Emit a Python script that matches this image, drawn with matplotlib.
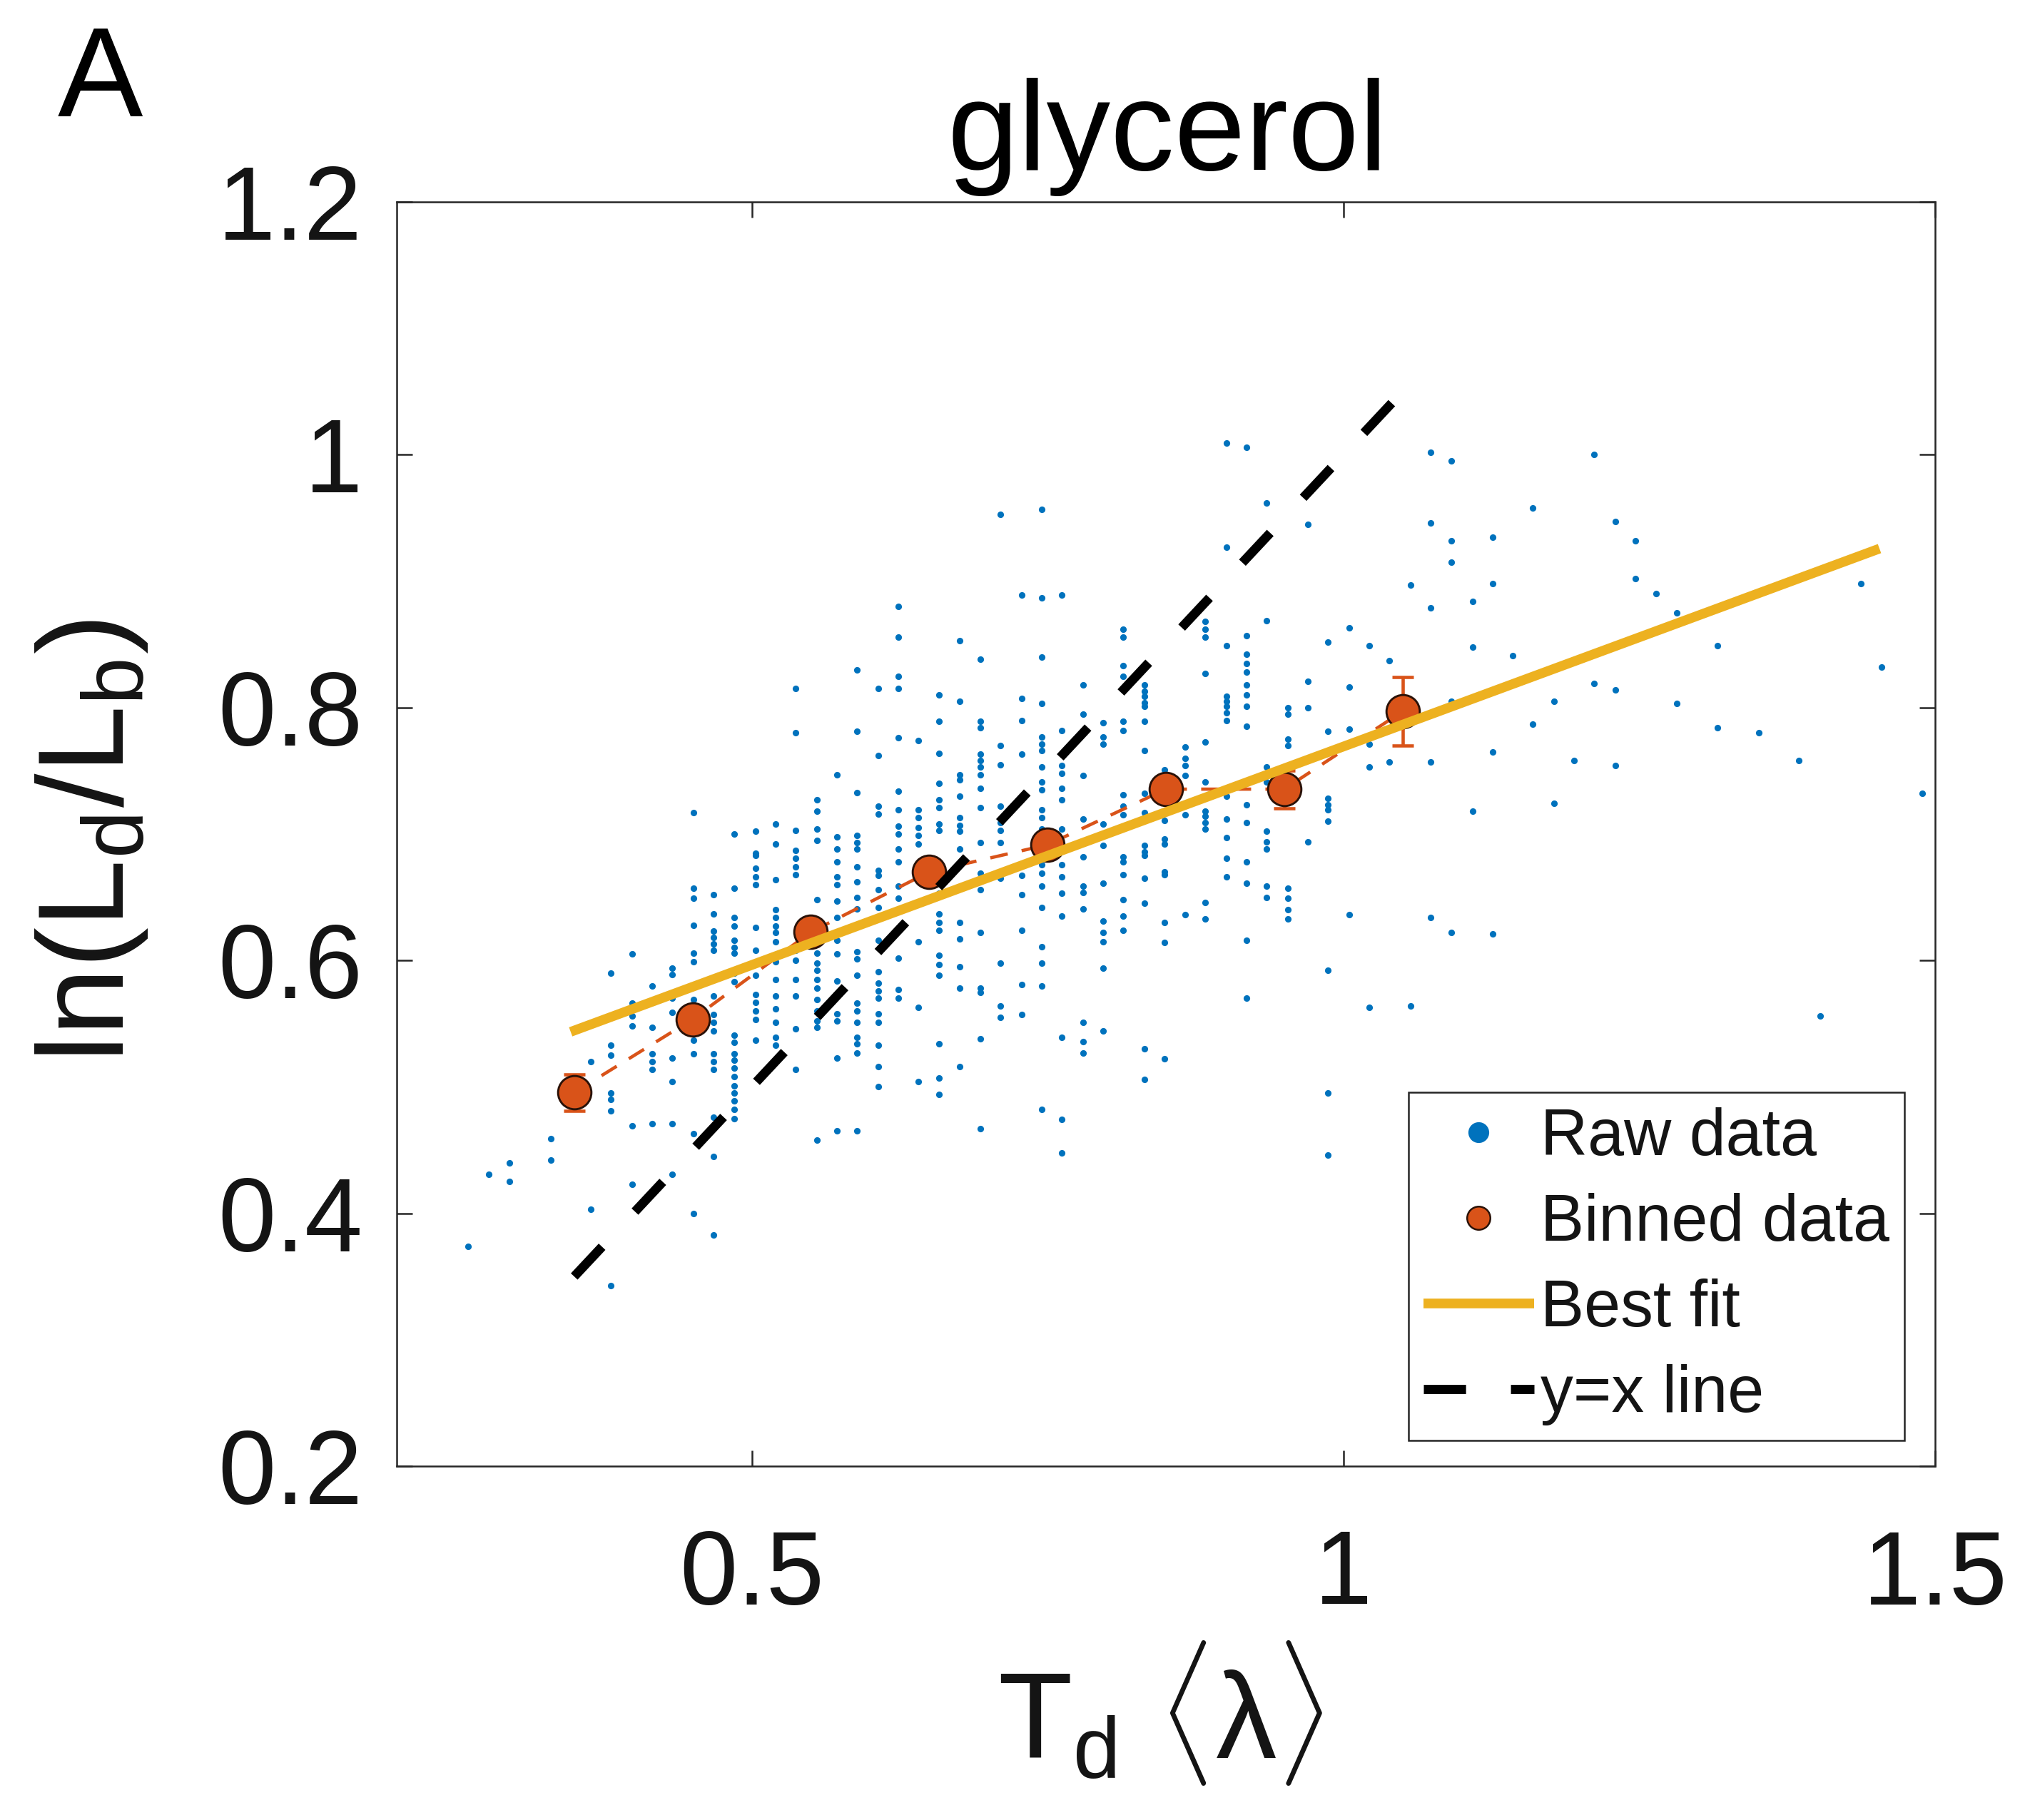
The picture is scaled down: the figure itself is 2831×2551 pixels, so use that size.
import matplotlib
matplotlib.use("Agg")
import matplotlib.pyplot as plt
from matplotlib.lines import Line2D

plt.rcParams['font.family'] = ['Liberation Sans', 'DejaVu Sans']
plt.rcParams['mathtext.fontset'] = 'custom'
plt.rcParams['mathtext.rm'] = 'Liberation Sans'
plt.rcParams['mathtext.it'] = 'Liberation Sans:italic'
plt.rcParams['mathtext.bf'] = 'Liberation Sans:bold'
plt.rcParams['lines.scale_dashes'] = False

# ---------------- data ----------------
# raw measurements, grouped by the discrete T_d<lambda> columns
raw_x = [0.260, 0.278, 0.295, 0.330, 0.364, 0.381, 0.399, 0.416, 0.433, 0.451,
         0.468, 0.485, 0.503, 0.520, 0.537, 0.555, 0.572, 0.589, 0.607, 0.624,
         0.641, 0.658, 0.676, 0.693, 0.710, 0.728, 0.745, 0.762, 0.780, 0.797,
         0.814, 0.832, 0.849, 0.866, 0.883, 0.901, 0.918, 0.935, 0.953, 0.970,
         0.987, 1.005, 1.022, 1.039, 1.057, 1.074, 1.091, 1.109, 1.126, 1.143,
         1.160, 1.178, 1.195, 1.212, 1.230, 1.247, 1.264, 1.282, 1.316, 1.351,
         1.385, 1.403, 1.437, 1.455, 1.489]
raw_y = [
    [0.374],
    [0.431],
    [0.440, 0.425],
    [0.459, 0.442],
    [0.520, 0.403],
    [0.590, 0.533, 0.525, 0.495, 0.490, 0.481, 0.343],
    [0.605, 0.566, 0.556, 0.548, 0.469, 0.423],
    [0.580, 0.547, 0.526, 0.520, 0.514, 0.471],
    [0.594, 0.589, 0.570, 0.559, 0.523, 0.504, 0.471, 0.431],
    [0.717, 0.657, 0.649, 0.628, 0.606, 0.599, 0.569, 0.537, 0.526, 0.463, 0.400],
    [0.652, 0.637, 0.623, 0.618, 0.613, 0.608, 0.572, 0.557, 0.551, 0.544, 0.526,
     0.520, 0.514, 0.476, 0.445, 0.383],
    [0.700, 0.657, 0.634, 0.627, 0.616, 0.610, 0.606, 0.590, 0.583, 0.541, 0.535,
     0.526, 0.521, 0.515, 0.508, 0.501, 0.495, 0.489, 0.482, 0.475],
    [0.702, 0.685, 0.683, 0.673, 0.666, 0.660, 0.626, 0.608, 0.588, 0.573, 0.567,
     0.560, 0.553, 0.537],
    [0.708, 0.692, 0.664, 0.640, 0.634, 0.627, 0.622, 0.615, 0.599, 0.585, 0.572,
     0.562, 0.551, 0.539, 0.533],
    [0.815, 0.780, 0.703, 0.687, 0.681, 0.674, 0.668, 0.608, 0.600, 0.585, 0.572,
     0.546, 0.514],
    [0.727, 0.718, 0.704, 0.695, 0.648, 0.606, 0.598, 0.592, 0.585, 0.578, 0.569,
     0.560, 0.552, 0.547, 0.458],
    [0.747, 0.698, 0.688, 0.678, 0.666, 0.660, 0.647, 0.634, 0.616, 0.605, 0.584,
     0.558, 0.552, 0.523, 0.465],
    [0.830, 0.781, 0.733, 0.699, 0.693, 0.688, 0.674, 0.662, 0.650, 0.641, 0.607,
     0.601, 0.588, 0.566, 0.560, 0.551, 0.539, 0.534, 0.527, 0.465],
    [0.815, 0.762, 0.722, 0.716, 0.671, 0.667, 0.656, 0.642, 0.616, 0.591, 0.582,
     0.576, 0.570, 0.558, 0.551, 0.533, 0.516, 0.500],
    [0.880, 0.856, 0.825, 0.815, 0.776, 0.734, 0.719, 0.706, 0.700, 0.688, 0.678,
     0.659, 0.649, 0.602, 0.577, 0.570],
    [0.774, 0.719, 0.713, 0.705, 0.699, 0.692, 0.615, 0.563, 0.504],
    [0.810, 0.789, 0.764, 0.740, 0.727, 0.721, 0.708, 0.703, 0.653, 0.637, 0.630,
     0.624, 0.604, 0.597, 0.588, 0.534, 0.507, 0.494],
    [0.853, 0.805, 0.747, 0.743, 0.730, 0.713, 0.707, 0.702, 0.688, 0.630, 0.617,
     0.595, 0.578, 0.516],
    [0.838, 0.789, 0.784, 0.763, 0.758, 0.753, 0.747, 0.736, 0.721, 0.693, 0.669,
     0.656, 0.622, 0.578, 0.575, 0.538, 0.467],
    [0.953, 0.770, 0.755, 0.722, 0.709, 0.703, 0.693, 0.665, 0.598, 0.564, 0.555],
    [0.889, 0.807, 0.790, 0.763, 0.667, 0.652, 0.624, 0.581, 0.557],
    [0.957, 0.887, 0.840, 0.803, 0.777, 0.771, 0.766, 0.753, 0.741, 0.735, 0.719,
     0.713, 0.704, 0.676, 0.669, 0.659, 0.642, 0.611, 0.598, 0.580, 0.482],
    [0.889, 0.782, 0.754, 0.748, 0.736, 0.727, 0.704, 0.676, 0.666, 0.653, 0.635,
     0.539, 0.474, 0.448],
    [0.818, 0.795, 0.746, 0.712, 0.682, 0.659, 0.654, 0.641, 0.551, 0.536, 0.527],
    [0.788, 0.777, 0.771, 0.708, 0.691, 0.661, 0.631, 0.622, 0.615, 0.594, 0.544],
    [0.862, 0.856, 0.833, 0.825, 0.789, 0.782, 0.731, 0.722, 0.715, 0.682, 0.678,
     0.668, 0.648, 0.635, 0.624],
    [0.818, 0.813, 0.809, 0.804, 0.801, 0.789, 0.766, 0.732, 0.717, 0.691, 0.686,
     0.683, 0.665, 0.645, 0.530, 0.506],
    [0.751, 0.711, 0.696, 0.692, 0.670, 0.668, 0.630, 0.614, 0.522],
    [0.769, 0.760, 0.754, 0.746, 0.715, 0.636],
    [0.868, 0.862, 0.856, 0.827, 0.773, 0.741, 0.718, 0.714, 0.709, 0.704, 0.646,
     0.633],
    [1.009, 0.927, 0.849, 0.809, 0.805, 0.801, 0.796, 0.790, 0.730, 0.712, 0.697,
     0.681, 0.666],
    [1.006, 0.857, 0.842, 0.835, 0.828, 0.818, 0.810, 0.801, 0.785, 0.723, 0.709,
     0.678, 0.661, 0.616, 0.570],
    [0.962, 0.869, 0.753, 0.741, 0.702, 0.694, 0.688, 0.659, 0.650],
    [0.800, 0.795, 0.775, 0.770, 0.657, 0.649, 0.640, 0.633],
    [0.945, 0.821, 0.800, 0.694],
    [0.852, 0.781, 0.728, 0.723, 0.719, 0.710, 0.592, 0.495, 0.446],
    [0.863, 0.816, 0.783, 0.636],
    [0.849, 0.771, 0.753, 0.563],
    [0.837, 0.757],
    [0.897, 0.564],
    [1.002, 0.946, 0.879, 0.757, 0.634],
    [0.995, 0.932, 0.915, 0.805, 0.622],
    [0.884, 0.848, 0.718],
    [0.935, 0.898, 0.765, 0.621],
    [0.841],
    [0.958, 0.787],
    [0.805, 0.724],
    [0.758],
    [1.000, 0.819],
    [0.947, 0.814, 0.754],
    [0.932, 0.902],
    [0.890],
    [0.875, 0.803],
    [0.849, 0.784],
    [0.780],
    [0.758],
    [0.556],
    [0.898],
    [0.832],
    [0.732],
]

# binned means with standard errors
bin_x = [0.35, 0.45, 0.55, 0.65, 0.75, 0.85, 0.95, 1.05]
bin_y = [0.4955, 0.5535, 0.6225, 0.670, 0.6915, 0.7355, 0.7355, 0.797]
bin_err = [0.0145, 0.008, 0.006, 0.005, 0.006, 0.008, 0.015, 0.027]

# linear best fit
fit_slope = 0.3456
fit_intercept = 0.4236
fit_x = [0.347, 1.453]

# reference y = x line
ident_x = [0.35, 1.05]

x_ticks = [0.5, 1.0, 1.5]
x_ticklabels = ['0.5', '1', '1.5']
y_ticks = [0.2, 0.4, 0.6, 0.8, 1.0, 1.2]
y_ticklabels = ['0.2', '0.4', '0.6', '0.8', '1', '1.2']

# ---------------- styling ----------------
BLUE = '#0072BD'
ORANGE = '#D95319'
YELLOW = '#EDB120'
AXCOL = '#262626'
TXT = '#141414'

W, H = 2831, 2551
DPI = 300
fig = plt.figure(figsize=(W / DPI, H / DPI), dpi=DPI)
fig.patch.set_facecolor('white')

ax_l, ax_r, ax_t, ax_b = 556, 2712, 283, 2055
ax = fig.add_axes([ax_l / W, 1 - ax_b / H, (ax_r - ax_l) / W, (ax_b - ax_t) / H])

xs, ys = [], []
for xv, col in zip(raw_x, raw_y):
    for yv in col:
        xs.append(xv)
        ys.append(yv)

ax.plot(xs, ys, ls='none', marker='o', ms=2.2, mfc=BLUE, mec='none', zorder=2)

# binned data: error bars, dashed connector, markers
ax.errorbar(bin_x, bin_y, yerr=bin_err, fmt='none', ecolor=ORANGE,
            elinewidth=1.1, capsize=3.55, capthick=1.1, zorder=3)
ax.plot(bin_x, bin_y, color=ORANGE, lw=1.1, ls='--', dashes=(6.0, 4.8), zorder=3.1)
ax.plot(bin_x, bin_y, ls='none', marker='o', ms=11.2, mfc=ORANGE,
        mec='#2a1208', mew=0.7, zorder=3.2)

fit_y = [fit_intercept + fit_slope * v for v in fit_x]
ax.plot(fit_x, fit_y, color=YELLOW, lw=3.26, solid_capstyle='butt', zorder=4)

ax.plot(ident_x, ident_x, color='black', lw=3.1, ls='--',
        dashes=(13.7, 16.2), dash_capstyle='butt', zorder=5)

ax.set_xlim(0.2, 1.5)
ax.set_ylim(0.2, 1.2)
ax.set_xticks(x_ticks)
ax.set_xticklabels(x_ticklabels)
ax.set_yticks(y_ticks)
ax.set_yticklabels(y_ticklabels)
ax.tick_params(direction='in', length=5.3, width=0.6, color=AXCOL,
               top=True, right=True, labelsize=35, labelcolor=TXT)
ax.tick_params(axis='x', pad=21)
ax.tick_params(axis='y', pad=11.5)
for sp in ax.spines.values():
    sp.set_linewidth(0.6)
    sp.set_color(AXCOL)

handles = [
    Line2D([], [], ls='none', marker='o', ms=7.0, mfc=BLUE, mec='none'),
    Line2D([], [], ls='none', marker='o', ms=7.8, mfc=ORANGE, mec='#2a1208', mew=0.6),
    Line2D([], [], color=YELLOW, lw=3.26, solid_capstyle='butt'),
    Line2D([], [], color='black', lw=3.1, ls='--', dashes=(14.2, 15.1),
           dash_capstyle='butt'),
]
labels = ['Raw data', 'Binned data', 'Best fit', 'y=x line']
leg = ax.legend(handles, labels, loc='lower right',
                bbox_to_anchor=((2669 - ax_l) / (ax_r - ax_l), (ax_b - 2019) / (ax_b - ax_t)),
                borderaxespad=0, fontsize=22, handlelength=1.69, handletextpad=0.1,
                labelspacing=0.37, borderpad=0.23, frameon=True, fancybox=False,
                framealpha=1, edgecolor=AXCOL)
leg.get_frame().set_linewidth(0.6)
leg.set_zorder(10)
for t in leg.get_texts():
    t.set_color(TXT)

fig.text(1636 / W, 1 - 238 / H, 'glycerol', ha='center', va='baseline',
         fontsize=43, color='black')
fig.text(81 / W, 1 - 163 / H, 'A', ha='left', va='baseline', fontsize=43, color='black')
fig.text(1626 / W, 1 - 2465 / H, r'$\mathrm{T_d}\ \langle\mathrm{\lambda}\rangle$',
         ha='center', va='baseline', fontsize=41, color=TXT)
fig.text(128 / W, 1 - 1178 / H, r'$\mathrm{ln(L_d/L_b)}$', rotation=90,
         ha='center', va='center', fontsize=41, color=TXT)

fig.savefig('out.png', dpi=DPI, facecolor='white')
